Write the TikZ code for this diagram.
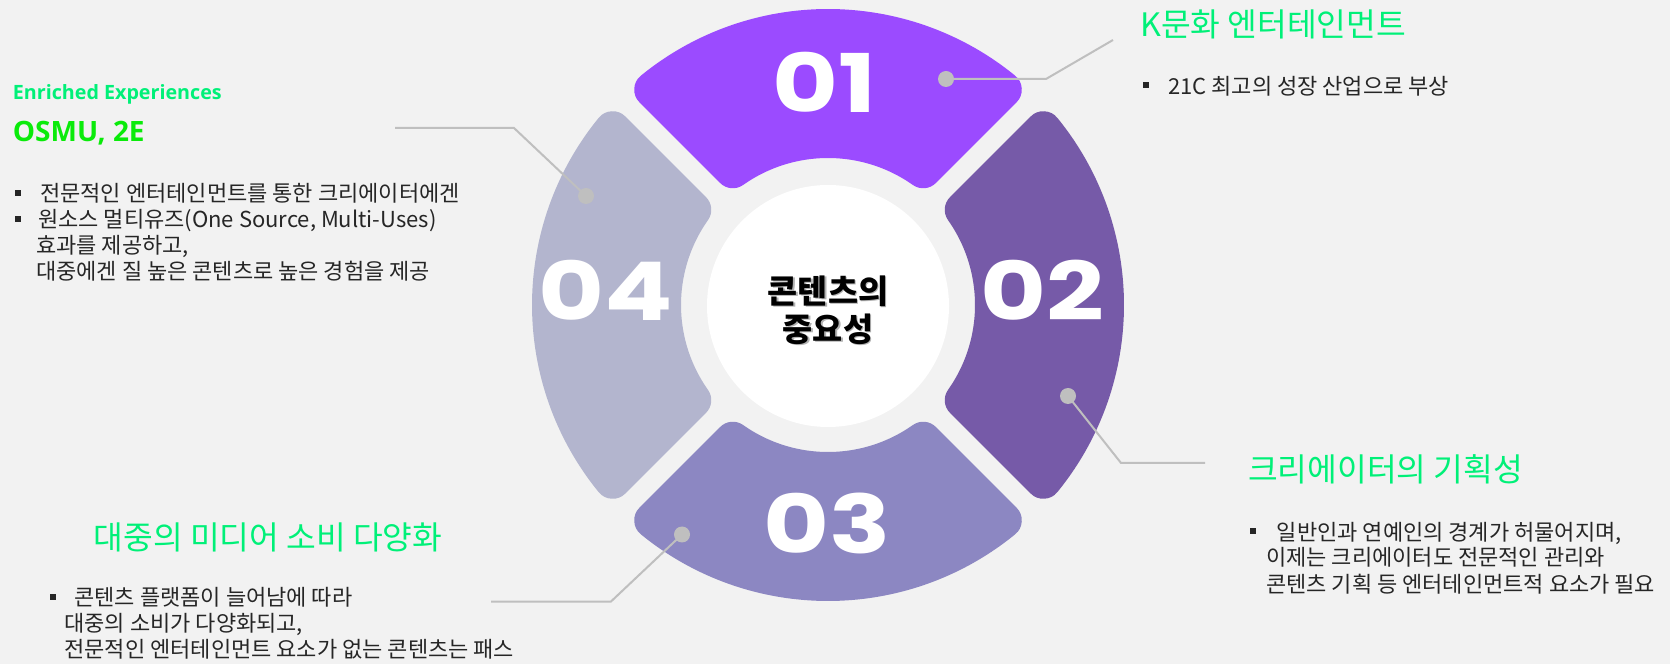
\documentclass[tikz,border=0pt]{standalone}
\usepackage{fontspec}
\setmainfont{Noto Sans CJK KR}
\newfontfamily\latinfont{Open Sans}
\newfontfamily\numfont{Poppins}
\usetikzlibrary{positioning}
\definecolor{bgray}{HTML}{F2F2F2}
\definecolor{segA}{HTML}{9B4BFF}
\definecolor{segB}{HTML}{765AA8}
\definecolor{segC}{HTML}{8C87C2}
\definecolor{segD}{HTML}{B3B5CE}
\definecolor{leadgray}{HTML}{BFBFBF}
\definecolor{ttlgreen}{HTML}{00F078}
\definecolor{osmugreen}{HTML}{0AEB0A}
\definecolor{txtgray}{HTML}{262626}
\newcommand{\sqb}{\rule[6pt]{6pt}{6pt}}
\tikzstyle{ttl} = [anchor=base west, inner sep=0pt, text=ttlgreen, font=\fontsize{32.3}{36}\selectfont]
\tikzstyle{bodytxt} = [anchor=base west, inner sep=0pt, align=left, text=txtgray, font=\fontsize{22}{26}\selectfont]
\tikzstyle{knob} = [circle, fill=leadgray, minimum size=16pt, inner sep=0pt]
\tikzstyle{lead} = [draw=leadgray, line width=2pt]
\tikzstyle{num} = [text=white, inner sep=0pt, xscale=1.25, font=\numfont\bfseries\fontsize{81}{81}\selectfont]
\tikzstyle{core} = [align=center, inner sep=0pt, font=\bfseries\fontsize{32.7}{38}\selectfont]
\begin{document}
\begin{tikzpicture}[x=1pt, y=1pt]
  \fill[bgray] (0,0) rectangle (1670,664);
  \useasboundingbox (0,0) rectangle (1670,664);
  % ring segments
  \foreach \ang/\col in {90/segA, 0/segB, -90/segC, 180/segD}{
    \begin{scope}[shift={(828,359)}, rotate=\ang]
      \filldraw[fill=\col, draw=\col, line width=36pt, line join=round]
        (-39.22:278) arc[start angle=-39.22, end angle=39.22, radius=278]
        -- (35.23:165) arc[start angle=35.23, end angle=-35.23, radius=165] -- cycle;
    \end{scope}
  }
  \node (hub) [circle, fill=white, minimum size=242pt, inner sep=0pt] at (828,358) {};
  \node (coreshadow) [core, text=black!30] at (829.5,352.5) {콘텐츠의\\중요성};
  \node (coretxt) [core, text=black] at (828,354) {콘텐츠의\\중요성};

  \node (n1) [num] at (824.5,581.4) {01};
  \node (n2) [num] at (1042,374) {02};
  \node (n3) [num] at (827,141) {03};
  \node (n4) [num] at (606,374) {04};

  % connectors
  \node (d1) [knob] at (946,585) {};
  \node (d2) [knob] at (1068,268) {};
  \node (d3) [knob] at (682,129.5) {};
  \node (d4) [knob] at (586,468) {};
  \coordinate (k1) at (1046,585);
  \coordinate (e1) at (1113,624);
  \coordinate (k2) at (1121,201);
  \coordinate (e2) at (1205,201);
  \coordinate (k3) at (611,62.5);
  \coordinate (e3) at (491,62.5);
  \coordinate (k4) at (514,536);
  \coordinate (e4) at (395,536);
  \draw [lead] (d1.center) -- (k1) -- (e1);
  \draw [lead] (d2.center) -- (k2) -- (e2);
  \draw [lead] (d3.center) -- (k3) -- (e3);
  \draw [lead] (d4.center) -- (k4) -- (e4);

  % texts
  \node (t1) [ttl] at (1140,627) {K문화 엔터테인먼트};
  \node (b1) [bodytxt] at (1143,569.5) {\sqb\hspace{19pt}21C 최고의 성장 산업으로 부상};

  \node (t2) [ttl] at (1248,182) {크리에이터의 기획성};
  \node (b2) [bodytxt] at (1250,72) {\sqb\hspace{20.7pt}일반인과 연예인의 경계가 허물어지며,\\\hspace*{16pt}이제는 크리에이터도 전문적인 관리와\\\hspace*{16pt}콘텐츠 기획 등 엔터테인먼트적 요소가 필요};

  \node (t3) [ttl] at (93.6,114) {대중의 미디어 소비 다양화};
  \node (b3) [bodytxt] at (50,6.5) {\sqb\hspace{18.3pt}콘텐츠 플랫폼이 늘어남에 따라\\\hspace*{14.3pt}대중의 소비가 다양화되고,\\\hspace*{14.3pt}전문적인 엔터테인먼트 요소가 없는 콘텐츠는 패스};

  \node (t4a) [ttl, font=\latinfont\bfseries\fontsize{19.7}{24}\selectfont] at (12.7,564.7) {Enriched Experiences};
  \node (t4b) [ttl, text=osmugreen, font=\latinfont\bfseries\fontsize{28}{32}\selectfont] at (12.7,522.3) {OSMU, 2E};
  \node (b4) [bodytxt] at (15,384) {\sqb\hspace{19pt}전문적인 엔터테인먼트를 통한 크리에이터에겐\\\sqb\hspace{17pt}원소스 멀티유즈(One Source, Multi-Uses)\\\hspace*{21pt}효과를 제공하고,\\\hspace*{21pt}대중에겐 질 높은 콘텐츠로 높은 경험을 제공};
\end{tikzpicture}
\end{document}
